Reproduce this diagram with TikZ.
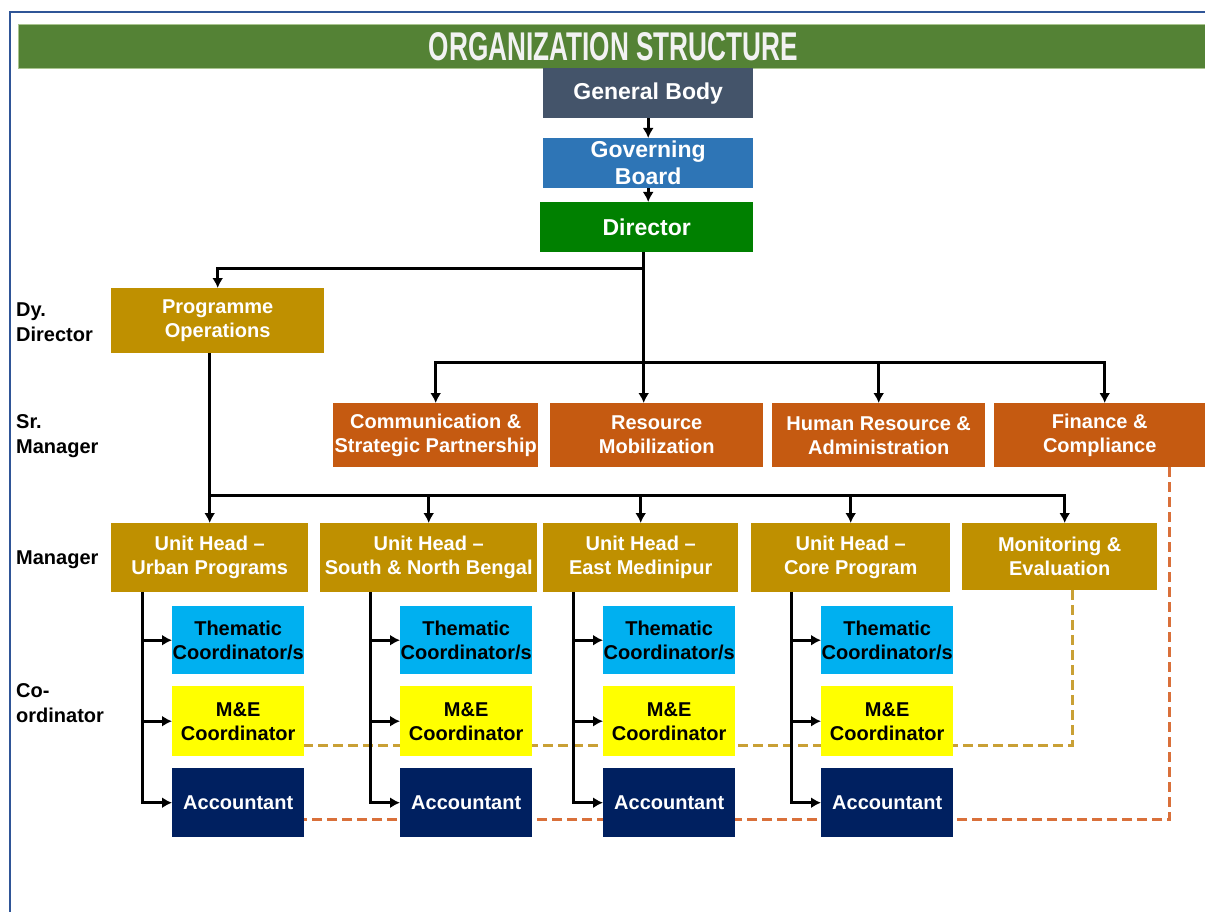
\documentclass[tikz,border=0pt]{standalone}
\usepackage{fontspec}
\setmainfont{Liberation Sans}
\usetikzlibrary{arrows.meta,backgrounds,calc}
\definecolor{slate}{HTML}{44546A}
\definecolor{govblue}{HTML}{2E75B6}
\definecolor{dirgreen}{HTML}{008000}
\definecolor{gold}{HTML}{BF9000}
\definecolor{rust}{HTML}{C55A11}
\definecolor{cyanb}{HTML}{00B0F0}
\definecolor{yel}{HTML}{FFFF00}
\definecolor{navy}{HTML}{002060}
\definecolor{banner}{HTML}{548235}
\definecolor{bannerlt}{HTML}{A9C48F}
\definecolor{framec}{HTML}{2F5597}
\definecolor{goldd}{HTML}{C9A035}
\definecolor{orangd}{HTML}{D9703A}
\tikzset{
 bx/.style={inner sep=0pt, anchor=north west, align=center, text=white, font=\bfseries\fontsize{20}{24}\selectfont},
 topbx/.style={bx, font=\bfseries\fontsize{23}{27}\selectfont},
 dkbx/.style={bx, text=black},
 lbl/.style={anchor=west, align=left, inner sep=0pt, font=\bfseries\fontsize{20}{25}\selectfont},
 con/.style={line width=3pt, black},
 arr/.style={con, -{Latex[length=10pt,width=11pt]}},
 dashg/.style={line width=3pt, goldd, dash pattern=on 10pt off 5pt},
 dasho/.style={line width=3pt, orangd, dash pattern=on 10pt off 5pt},
 framel/.style={line width=2.5pt, framec},
}
\begin{document}
\begin{tikzpicture}[x=1pt,y=-1pt]
\useasboundingbox (0,0) rectangle (1205,912);
\draw[framel] (10,912) -- (10,12) -- (1206,12);
% banner
\node[fill=banner, draw=bannerlt, line width=1pt, minimum width=1190pt, minimum height=44pt, anchor=north west, inner sep=0pt, text=white!95!black] (banner) at (18,24) {\resizebox{369pt}{28pt}{\bfseries ORGANIZATION STRUCTURE}};
% top chain
\node[topbx, fill=slate, minimum width=210pt, minimum height=50pt] (gb) at (543,68) {General Body};
\node[topbx, fill=govblue, minimum width=210pt, minimum height=50pt] (gov) at (543,138) {Governing\\Board};
\node[topbx, fill=dirgreen, minimum width=213pt, minimum height=50pt] (dir) at (540,202) {Director};
% dy director
\node[bx, fill=gold, minimum width=213pt, minimum height=65pt] (po) at (111,288) {Programme\\Operations};
% sr managers
\node[bx, fill=rust, minimum width=205pt, minimum height=64pt] (comm) at (333,403) {Communication \&\\Strategic Partnership};
\node[bx, fill=rust, minimum width=213pt, minimum height=64pt] (res) at (550,403) {Resource\\Mobilization};
\node[bx, fill=rust, minimum width=213pt, minimum height=64pt] (hr) at (772,403) {Human Resource \&\\Administration};
\node[bx, fill=rust, minimum width=211pt, minimum height=64pt] (fin) at (994,403) {Finance \&\\Compliance};
% managers
\node[bx, fill=gold, minimum width=197pt, minimum height=69pt] (uh1) at (111,523) {Unit Head –\\Urban Programs};
\node[bx, fill=gold, minimum width=217pt, minimum height=69pt] (uh2) at (320,523) {Unit Head –\\South \& North Bengal};
\node[bx, fill=gold, minimum width=195pt, minimum height=69pt] (uh3) at (543,523) {Unit Head –\\East Medinipur};
\node[bx, fill=gold, minimum width=199pt, minimum height=69pt] (uh4) at (751,523) {Unit Head –\\Core Program};
\node[bx, fill=gold, minimum width=195pt, minimum height=67pt] (me) at (962,523) {Monitoring \&\\Evaluation};
% coordinators
\foreach \i/\x in {1/172,2/400,3/603,4/821}{
  \node[dkbx, fill=cyanb, minimum width=132pt, minimum height=68pt] (th\i) at (\x,606) {Thematic\\Coordinator/s};
  \node[dkbx, fill=yel, minimum width=132pt, minimum height=70pt] (mec\i) at (\x,686) {M\&E\\Coordinator};
  \node[bx, fill=navy, minimum width=132pt, minimum height=69pt] (acc\i) at (\x,768) {Accountant};
}
% labels
\node[lbl] (l1) at (16,322) {Dy.\\Director};
\node[lbl] (l2) at (16,436) {Sr.\\Manager};
\node[lbl] (l3) at (16,560) {Manager};
\node[lbl] (l4) at (16,703) {Co-\\ordinator};
% connectors
\draw[arr] (gb.south) -- (gov.north);
\draw[arr] (gov.south) -- (gov.south |- dir.north);
\draw[arr] ($(dir.south)+(-3,0)$) -- ++(0,16) -| (po.north);
\draw[arr] ($(dir.south)+(-3,0)$) -- ($(dir.south |- res.north)+(-3,0)$);
\coordinate (b1) at (0,362);
\draw[arr] ($(dir.south |- b1)+(-3,0)$) -| (comm.north);
\draw[arr] ($(dir.south |- b1)+(-3,0)$) -| (hr.north);
\draw[arr] ($(dir.south |- b1)+(-3,0)$) -| ($(fin.north)+(5,0)$);
\draw[arr] (po.south -| uh1.north) -- (uh1.north);
\coordinate (b2) at (0,495);
\draw[arr] (uh1.north |- b2) -| (uh2.north);
\draw[arr] (uh1.north |- b2) -| (uh3.north);
\draw[arr] (uh1.north |- b2) -| (uh4.north);
\draw[arr] (uh1.north |- b2) -| ($(me.north)+(5,0)$);
\foreach \i in {1,...,4}{
  \draw[arr] ($(th\i.west |- uh\i.south)+(-30,0)$) |- (th\i.west);
  \draw[arr] ($(th\i.west |- uh\i.south)+(-30,0)$) |- (mec\i.west);
  \draw[arr] ($(th\i.west |- uh\i.south)+(-30,0)$) |- (acc\i.west);
}
\begin{pgfonlayer}{background}
\draw[dashg] ($(me.south)+(13,0)$) |- ($(mec1.east)+(0,24)$);
\draw[dasho] ($(fin.south)+(70,0)$) |- ($(acc1.east)+(0,17)$);
\end{pgfonlayer}
\end{tikzpicture}
\end{document}
